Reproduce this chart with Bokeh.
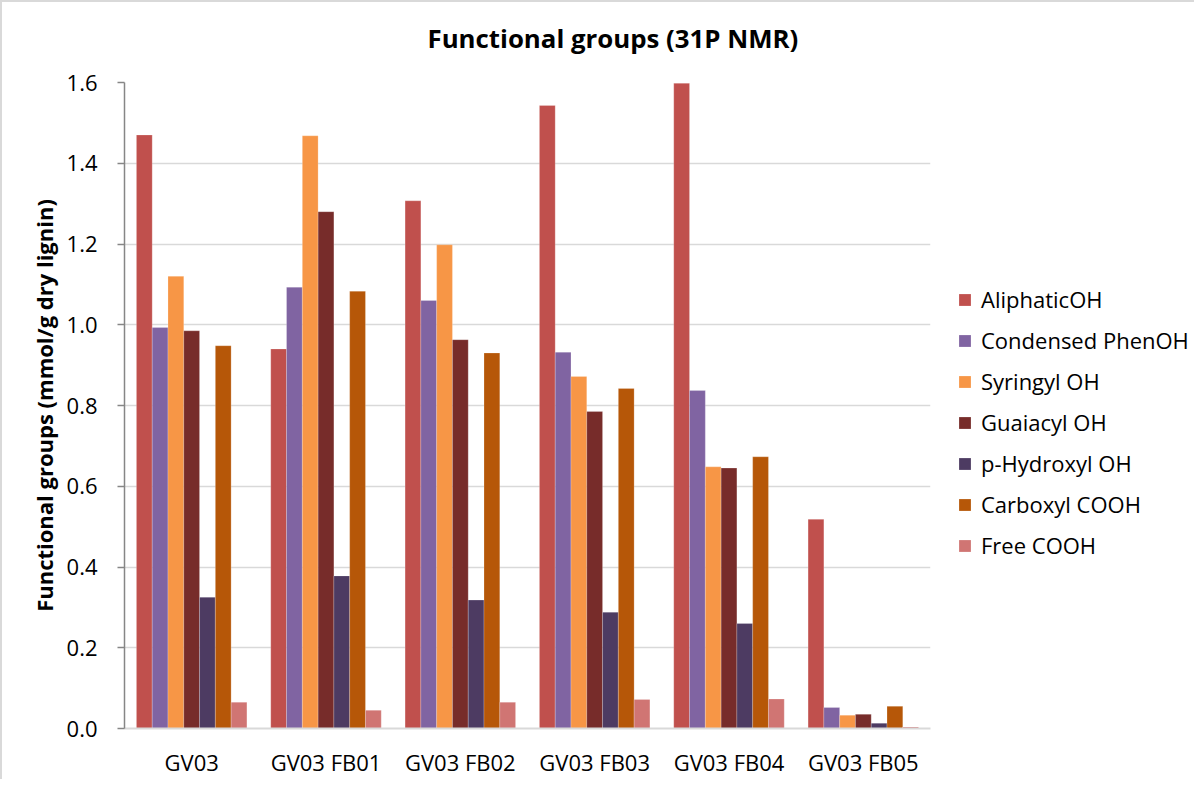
from bokeh.plotting import figure
from bokeh.models import FactorRange, Range1d, Legend, LegendItem, ColumnDataSource, CustomJSTickFormatter, Title
from bokeh.transform import dodge
from bokeh.embed import file_html
from bokeh.resources import INLINE

samples = ["GV03", "GV03 FB01", "GV03 FB02", "GV03 FB03", "GV03 FB04", "GV03 FB05"]
series_names = ["AliphaticOH", "Condensed PhenOH", "Syringyl OH", "Guaiacyl OH",
                "p-Hydroxyl OH", "Carboxyl COOH", "Free COOH"]
aliphatic_oh = [1.470, 0.940, 1.307, 1.543, 1.598, 0.518]
condensed_phenoh = [0.993, 1.093, 1.060, 0.932, 0.837, 0.052]
syringyl_oh = [1.120, 1.468, 1.198, 0.872, 0.648, 0.033]
guaiacyl_oh = [0.985, 1.280, 0.963, 0.785, 0.645, 0.035]
p_hydroxyl_oh = [0.325, 0.378, 0.318, 0.288, 0.260, 0.013]
carboxyl_cooh = [0.948, 1.083, 0.930, 0.842, 0.673, 0.055]
free_cooh = [0.065, 0.045, 0.065, 0.072, 0.073, 0.004]
colors = ["#C0504D", "#8064A2", "#F79646", "#772C2A", "#4D3B62", "#B65708", "#D07573"]
y_ticks = [0.0, 0.2, 0.4, 0.6, 0.8, 1.0, 1.2, 1.4, 1.6]
chart_title = "Functional groups (31P NMR)"

all_series = [aliphatic_oh, condensed_phenoh, syringyl_oh, guaiacyl_oh,
              p_hydroxyl_oh, carboxyl_cooh, free_cooh]

FONT = "Open Sans"

p = figure(
    x_range=FactorRange(factors=samples, range_padding=0),
    y_range=Range1d(0, 1.6),
    frame_width=806, frame_height=646,
    min_border_left=122, min_border_right=5, min_border_top=10, min_border_bottom=30,
    output_backend="svg", toolbar_location=None,
    title=None,
    styles={"border-left": "2px solid #D9D9D9", "border-top": "2px solid #D9D9D9"},
)

# spacer between title and frame (nearest the frame), then the real title
spacer = Title(text=" ", text_font_size="1px", standoff=9)
p.add_layout(spacer, "above")
main_title = Title(text=chart_title, text_font=FONT, text_font_size="25.8px",
                   text_font_style="bold", align="left", offset=303, standoff=30,
                   text_color="#000000")
p.add_layout(main_title, "above")

src = ColumnDataSource(dict(sample=samples, **{f"s{i}": v for i, v in enumerate(all_series)}))

bw = 0.1175
items = []
for i, name in enumerate(series_names):
    r = p.vbar(x=dodge("sample", (i - 3) * bw, range=p.x_range), top=f"s{i}", width=bw,
               source=src, fill_color=colors[i], line_color="white", line_alpha=0.35, line_width=0.6)
    items.append(LegendItem(label=name, renderers=[r]))

legend = Legend(items=items, location=(27, 168), orientation="vertical",
                padding=0, margin=0, border_line_alpha=0, background_fill_alpha=0,
                glyph_width=15, glyph_height=15, label_standoff=9,
                label_height=24, spacing=11,
                label_text_font=FONT, label_text_font_size="22px", label_text_color="#000000")
p.add_layout(legend, "right")

# Axes
p.yaxis.ticker = y_ticks
p.yaxis.formatter = CustomJSTickFormatter(code="return tick.toFixed(1);")
p.yaxis.axis_label = "Functional groups (mmol/g dry lignin)"
p.yaxis.axis_label_text_font = FONT
p.yaxis.axis_label_text_font_size = "22px"
p.yaxis.axis_label_text_font_style = "bold"
p.yaxis.axis_label_text_color = "#000000"
p.yaxis.axis_label_standoff = 5
p.yaxis.major_label_text_font = FONT
p.yaxis.major_label_text_font_size = "22px"
p.yaxis.major_label_text_color = "#000000"
p.yaxis.major_label_standoff = 20
p.yaxis.axis_line_color = "#868686"
p.yaxis.axis_line_width = 1.5
p.yaxis.major_tick_line_color = "#868686"
p.yaxis.major_tick_line_width = 1.5
p.yaxis.major_tick_out = 7
p.yaxis.major_tick_in = 0
p.yaxis.minor_tick_line_color = None

p.xaxis.major_label_text_font = FONT
p.xaxis.major_label_text_font_size = "22px"
p.xaxis.major_label_text_color = "#000000"
p.xaxis.major_label_standoff = 12
p.xaxis.axis_line_color = "#D9D9D9"
p.xaxis.axis_line_width = 2
p.xaxis.major_tick_line_color = None
p.xaxis.minor_tick_line_color = None

p.xgrid.grid_line_color = None
p.ygrid.grid_line_color = "#D9D9D9"
p.ygrid.grid_line_width = 1.5
p.outline_line_color = None
p.background_fill_color = "white"
p.border_fill_color = "white"

open("out.html", "w").write(file_html(p, INLINE))
